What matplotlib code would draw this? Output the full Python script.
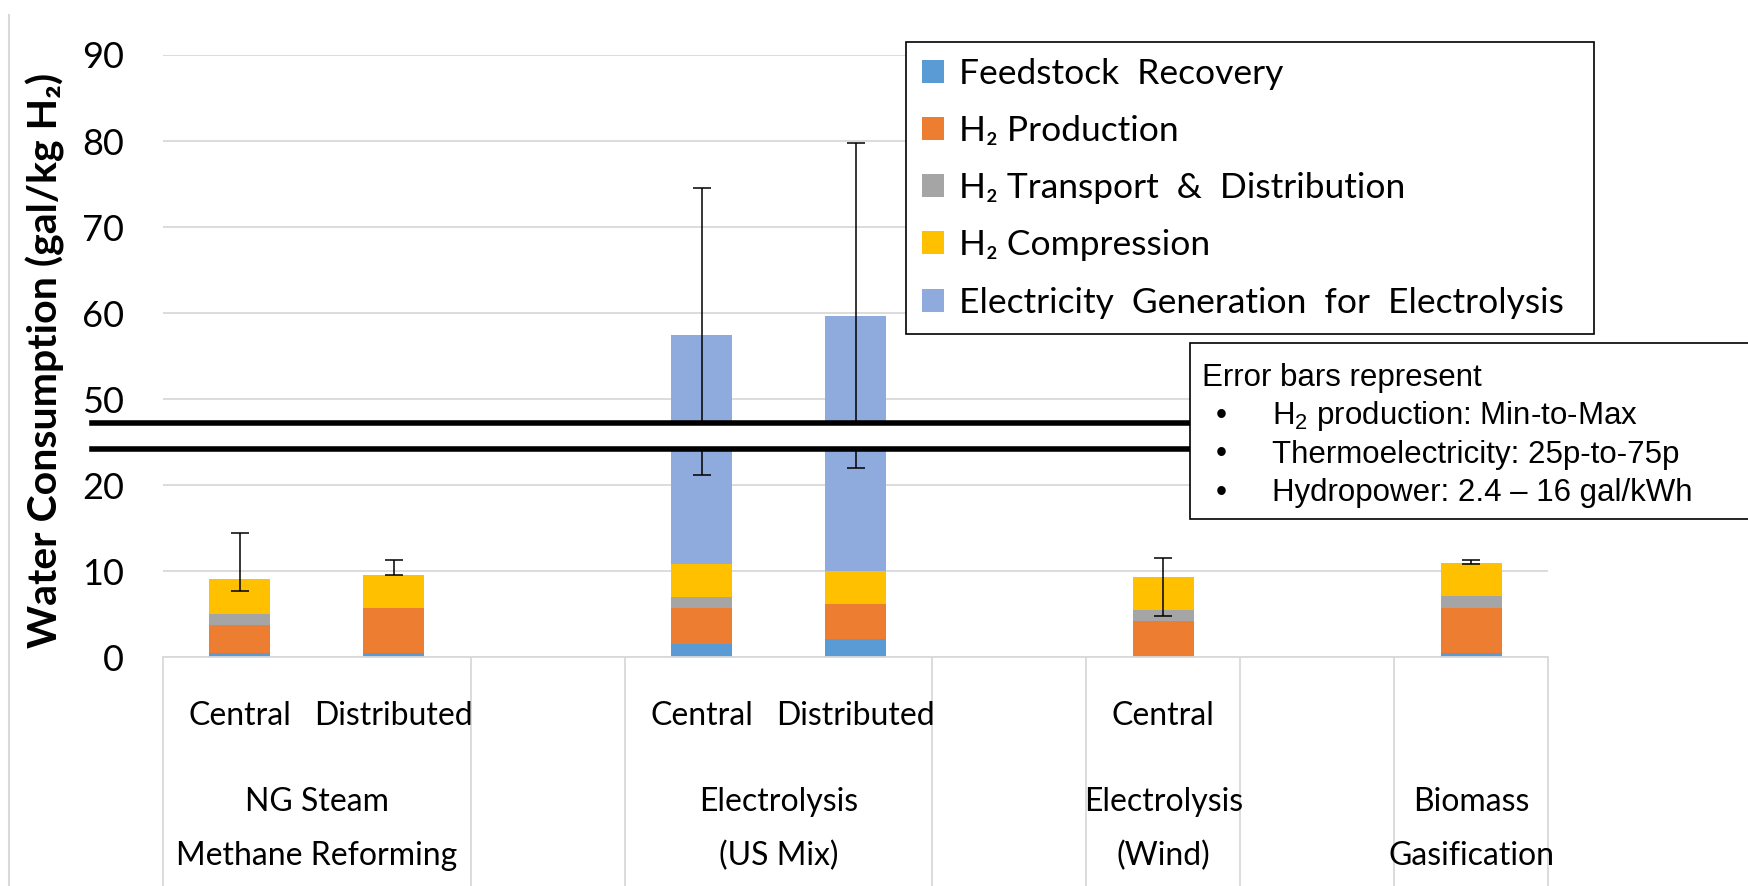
import numpy as np
import matplotlib
matplotlib.use("Agg")
from matplotlib import pyplot as plt
from matplotlib.patches import Rectangle, Patch
from matplotlib.lines import Line2D
from matplotlib.transforms import blended_transform_factory

plt.rcParams['font.family'] = ['Lato', 'DejaVu Sans']
plt.rcParams['mathtext.fontset'] = 'custom'
plt.rcParams['mathtext.rm'] = 'Liberation Sans'
plt.rcParams['mathtext.it'] = 'Liberation Sans:italic'
plt.rcParams['mathtext.bf'] = 'Liberation Sans:bold'

# ---- data (gal/kg H2), one slot per category, blanks are spacer slots ----
subcats = ["Central", "Distributed", "", "Central", "Distributed", "", "Central", "", ""]
groups = ["NG Steam\nMethane Reforming", "", "Electrolysis\n(US Mix)", "", "Electrolysis\n(Wind)", "", "Biomass\nGasification"]
group_sizes = [2, 1, 2, 1, 1, 1, 1]

feedstock = [0.55, 0.55, 0, 1.6, 2.1, 0, 0, 0, 0.55]
production = [3.15, 5.17, 0, 4.1, 4.08, 0, 4.2, 0, 5.17]
transport = [1.35, 0, 0, 1.35, 0, 0, 1.32, 0, 1.35]
compression = [4.05, 3.85, 0, 3.85, 3.82, 0, 3.81, 0, 3.85]
electricity = [0, 0, 0, 46.5, 49.7, 0, 0, 0, 0]

err_low = [7.65, 9.6, np.nan, 21.2, 22.0, np.nan, 4.8, np.nan, 10.8]
err_high = [14.5, 11.35, np.nan, 74.6, 79.8, np.nan, 11.55, np.nan, 11.35]

series = [feedstock, production, transport, compression, electricity]
labels = ["Feedstock  Recovery", "H\u2082 Production", "H\u2082 Transport  &  Distribution",
          "H\u2082 Compression", "Electricity  Generation  for  Electrolysis"]
colors = ["#5B9BD5", "#ED7D31", "#A5A5A5", "#FFC000", "#8FAADC"]

yticks = [0, 10, 20, 50, 60, 70, 80, 90]
break_lo, break_hi = 24.2, 47.2  # the axis jumps from break_lo to break_hi


def fwd(v):  # linear below and above the break, squeezed inside it
    v = np.asarray(v, dtype=float)
    k = 3.0 / (break_hi - break_lo)
    return np.where(v <= break_lo, v,
                    np.where(v >= break_hi, v - 20, break_lo + (v - break_lo) * k))


def inv(d):
    d = np.asarray(d, dtype=float)
    k = 3.0 / (break_hi - break_lo)
    return np.where(d <= break_lo, d,
                    np.where(d >= break_hi - 20, d + 20, break_lo + (d - break_lo) / k))


W, H = 1748, 886
fig = plt.figure(figsize=(W / 100, H / 100), dpi=100)
ax = fig.add_axes([162.7 / W, 1 - 657.3 / H, (1548.3 - 162.7) / W, (657.3 - 55) / H])
ax.set_yscale('function', functions=(fwd, inv))

x = np.arange(len(subcats))
bottom = np.zeros(len(x))
handles = []
for vals, lab, col in zip(series, labels, colors):
    vals = np.array(vals, dtype=float)
    ax.bar(x, vals, 0.40, bottom=bottom, color=col, zorder=2)
    bottom = bottom + vals
    handles.append(Patch(facecolor=col, label=lab))

lo = np.array(err_low)
hi = np.array(err_high)
m = ~np.isnan(lo)
ax.errorbar(x[m], bottom[m], yerr=[np.clip(bottom[m] - lo[m], 0, None), hi[m] - bottom[m]],
            fmt='none', ecolor='black', elinewidth=1.1, capsize=6.5, capthick=1.1, zorder=3)

ax.set_xlim(-0.5, len(x) - 0.5)
ax.set_ylim(0, 90)
ax.set_yticks(yticks)
ax.set_yticklabels([str(t) for t in yticks])
ax.minorticks_off()
ax.tick_params(axis='y', length=0, pad=28, labelsize=26, colors='black')
ax.set_xticks([])
ax.yaxis.grid(True, color='#d9d9d9', linewidth=1.3, zorder=0)
ax.set_axisbelow(True)
for s in ['left', 'right', 'top']:
    ax.spines[s].set_visible(False)
ax.spines['bottom'].set_color('#d9d9d9')
ax.spines['bottom'].set_linewidth(1.3)

# category axis: separators, sub labels, group labels
tr = blended_transform_factory(ax.transData, fig.transFigure)
edges = np.concatenate([[0], np.cumsum(group_sizes)]) - 0.5
for e in edges:
    ax.add_line(Line2D([e, e], [0, 1 - 657.3 / H], transform=tr, color='#d9d9d9',
                       linewidth=1.3, clip_on=False))
for xi, s in zip(x, subcats):
    ax.text(xi, 1 - 716 / H, s, transform=tr, ha='center', va='center', fontsize=23)
for i, g in enumerate(groups):
    ax.text((edges[i] + edges[i + 1]) / 2, 1 - 829 / H, g, transform=tr, ha='center',
            va='center', fontsize=23, linespacing=2.0)

# axis break band
trb = blended_transform_factory(fig.transFigure, ax.transData)
ax.add_patch(Rectangle((92 / W, break_lo), (1190 - 92) / W, break_hi - break_lo, transform=trb,
                       facecolor='white', edgecolor='none', zorder=5, clip_on=False))
for yb in [break_lo, break_hi]:
    ax.add_line(Line2D([92 / W, 1190 / W], [yb, yb], transform=trb, color='black',
                       linewidth=4, zorder=6, clip_on=False))

fig.text(45 / W, 1 - 360 / H, "Water Consumption (gal/kg H\u2082)", rotation=90, ha='center',
         va='center', fontsize=29.5, fontweight='bold')

leg = ax.legend(handles=handles, loc='upper left', bbox_to_anchor=(906 / W, 1 - 42 / H, (1594 - 906) / W, 0),
                bbox_transform=fig.transFigure, mode='expand', fontsize=25.5, frameon=True,
                fancybox=False, edgecolor='black', framealpha=1, handlelength=0.62, handleheight=0.62,
                handletextpad=0.42, labelspacing=0.71, borderpad=0.45, borderaxespad=0)
leg.get_frame().set_linewidth(1.2)
leg.set_zorder(10)

# error bar note
fig.patches.append(Rectangle((1190 / W, 1 - 519 / H), (1760 - 1190) / W, (519 - 343) / H,
                             transform=fig.transFigure, facecolor='white', edgecolor='black',
                             linewidth=1.2, zorder=10))
fig.text(1201.7 / W, 1 - 378 / H, "Error bars represent", family='Liberation Sans',
         fontsize=22.5, va='center', zorder=11)
notes = [r"H$_2$ production: Min-to-Max", "Thermoelectricity: 25p-to-75p", "Hydropower: 2.4 \u2013 16 gal/kWh"]
for i, n in enumerate(notes):
    yy = 1 - (416 + 38.5 * i) / H
    fig.text(1216 / W, yy, "\u2022", family='Liberation Sans', fontsize=22.5, va='center', zorder=11)
    fig.text(1271.7 / W, yy, n, family='Liberation Sans', fontsize=22.5, va='center', zorder=11)

# slide border
fig.add_artist(Line2D([9 / W, 9 / W], [0, 1 - 15 / H], transform=fig.transFigure,
                      color='#d9d9d9', linewidth=1.5))

fig.savefig("out.png", dpi=100)
